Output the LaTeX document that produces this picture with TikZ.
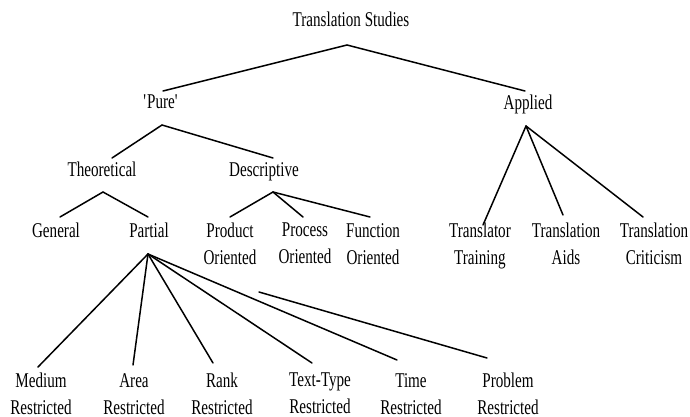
\documentclass[tikz,border=0pt]{standalone}
\usepackage{fontspec}
\setmainfont[FakeStretch=0.72]{Liberation Serif}
\tikzset{
  term/.style={anchor=north, inner sep=0pt, align=center, font=\fontsize{21}{27}\selectfont},
  branch/.style={line width=1.5pt, line cap=round}
}
\begin{document}
\begin{tikzpicture}[x=1pt,y=-1pt]
            \useasboundingbox[fill=white] (0,0) rectangle (690,417);
            % Map of the discipline
            \node[term] (ts) at (351,12) {Translation Studies};
            \node[term] (pure) at (161,95) {\textquotesingle Pure\textquotesingle};
            \node[term] (applied) at (528,95) {Applied};
            \node[term] (theo) at (102,162) {Theoretical};
            \node[term] (desc) at (264,162) {Descriptive};
            \node[term] (general) at (56,223) {General};
            \node[term] (partial) at (149,223) {Partial};
            \node[term] (product) at (230,223) {Product\\Oriented};
            \node[term] (process) at (305,223) {Process\\Oriented};
            \node[term] (function) at (373,223) {Function\\Oriented};
            \node[term] (training) at (480,223) {Translator\\Training};
            \node[term] (aids) at (566,223) {Translation\\Aids};
            \node[term] (criticism) at (654,223) {Translation\\Criticism};
            \node[term] (medium) at (41,373) {Medium\\Restricted};
            \node[term] (area) at (134,373) {Area\\Restricted};
            \node[term] (rank) at (222,373) {Rank\\Restricted};
            \node[term] (texttype) at (320,373) {Text-Type\\Restricted};
            \node[term] (time) at (411,373) {Time\\Restricted};
            \node[term] (problem) at (508,373) {Problem\\Restricted};

            % fork points under each parent
            \coordinate (tsfork) at (347,45);
            \coordinate (purefork) at (162,125);
            \coordinate (theofork) at (103,192);
            \coordinate (descfork) at (273,192);
            \coordinate (appliedfork) at (526,126);
            \coordinate (partialfork) at (148,254);
            \coordinate (problemstart) at (259,292);

            \draw[branch] (tsfork) -- ([xshift=2pt,yshift=4pt]pure.north);
            \draw[branch] (tsfork) -- ([xshift=-3pt,yshift=4pt]applied.north);
            \draw[branch] (purefork) -- ([xshift=10pt,yshift=4pt]theo.north);
            \draw[branch] (purefork) -- ([xshift=9pt,yshift=4pt]desc.north);
            \draw[branch] (theofork) -- ([xshift=4pt,yshift=6pt]general.north);
            \draw[branch] (theofork) -- ([xshift=-1pt,yshift=6pt]partial.north);
            \draw[branch] (descfork) -- ([yshift=6pt]product.north);
            \draw[branch] (descfork) -- ([xshift=-2pt,yshift=6pt]process.north);
            \draw[branch] (descfork) -- ([xshift=-3pt,yshift=6pt]function.north);
            \draw[branch] (appliedfork) -- ([xshift=3pt,yshift=-2pt]training.north);
            \draw[branch] (appliedfork) -- ([xshift=-3pt,yshift=8pt]aids.north);
            \draw[branch] (appliedfork) -- ([xshift=-11pt,yshift=6pt]criticism.north);
            \draw[branch] (partialfork) -- ([xshift=-3pt,yshift=6pt]medium.north);
            \draw[branch] (partialfork) -- ([xshift=-1pt,yshift=8pt]area.north);
            \draw[branch] (partialfork) -- ([xshift=-9pt,yshift=10pt]rank.north);
            \draw[branch] (partialfork) -- ([xshift=-8pt,yshift=10pt]texttype.north);
            \draw[branch] (partialfork) -- ([xshift=-14pt,yshift=13pt]time.north);
            \draw[branch] (problemstart) -- ([xshift=-21pt,yshift=15pt]problem.north);
\end{tikzpicture}
\end{document}
